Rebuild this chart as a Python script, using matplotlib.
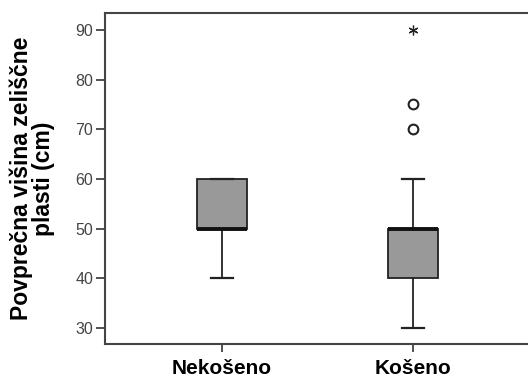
import matplotlib
matplotlib.use("Agg")
import matplotlib.pyplot as plt

groups = ["Nekošeno", "Košeno"]
whislo = [40, 30]
q1 = [50, 40]
med = [50, 50]
q3 = [60, 50]
whishi = [60, 60]
outliers = [[], [70, 75]]
extremes = [[], [90]]

plt.rcParams['font.family'] = ['Liberation Sans', 'DejaVu Sans']

fig = plt.figure(figsize=(5.28, 3.8), dpi=100)
ax = fig.add_axes([105 / 528, 1 - 344 / 380, 425 / 528, 331 / 380])

stats = []
for i in range(len(groups)):
    stats.append(dict(label=groups[i], whislo=whislo[i], q1=q1[i], med=med[i],
                      q3=q3[i], whishi=whishi[i], fliers=outliers[i]))

pos = [1, 2]
ax.bxp(stats, positions=pos, widths=0.26, patch_artist=True,
       boxprops=dict(facecolor='#999999', edgecolor='#222222', linewidth=1.3),
       medianprops=dict(color='#111111', linewidth=2.8),
       whiskerprops=dict(color='#222222', linewidth=1.3),
       capprops=dict(color='#222222', linewidth=1.6),
       capwidths=0.12,
       flierprops=dict(marker='o', markerfacecolor='white', markeredgecolor='#222222',
                       markersize=7, markeredgewidth=1.5))

# ekstremne vrednosti (zvezdica)
for i in range(len(groups)):
    for v in extremes[i]:
        ax.plot(pos[i], v, marker=(6, 2, 0), color='#222222', markersize=7, mew=0.9)

ax.set_xlim(0.387, 2.613)
ax.set_ylim(26.8, 93.4)
ax.set_yticks([30, 40, 50, 60, 70, 80, 90])
ax.set_xticks(pos)
ax.set_xticklabels(groups, fontsize=15, fontweight='bold')
ax.tick_params(axis='y', labelsize=11.5, labelcolor='#444444', length=6.5, width=1.2, color='#333333', pad=2)
ax.tick_params(axis='x', length=6, width=1.2, color='#333333', pad=5)

for s in ax.spines.values():
    s.set_color('#444444')
    s.set_linewidth(1.5)

ax.set_ylabel("Povprečna višina zeliščne\nplasti (cm)", fontsize=16.5, fontweight='bold',
              linespacing=0.95)
ax.yaxis.set_label_coords(-0.118, 0.5)

fig.savefig("out.png", dpi=100)
